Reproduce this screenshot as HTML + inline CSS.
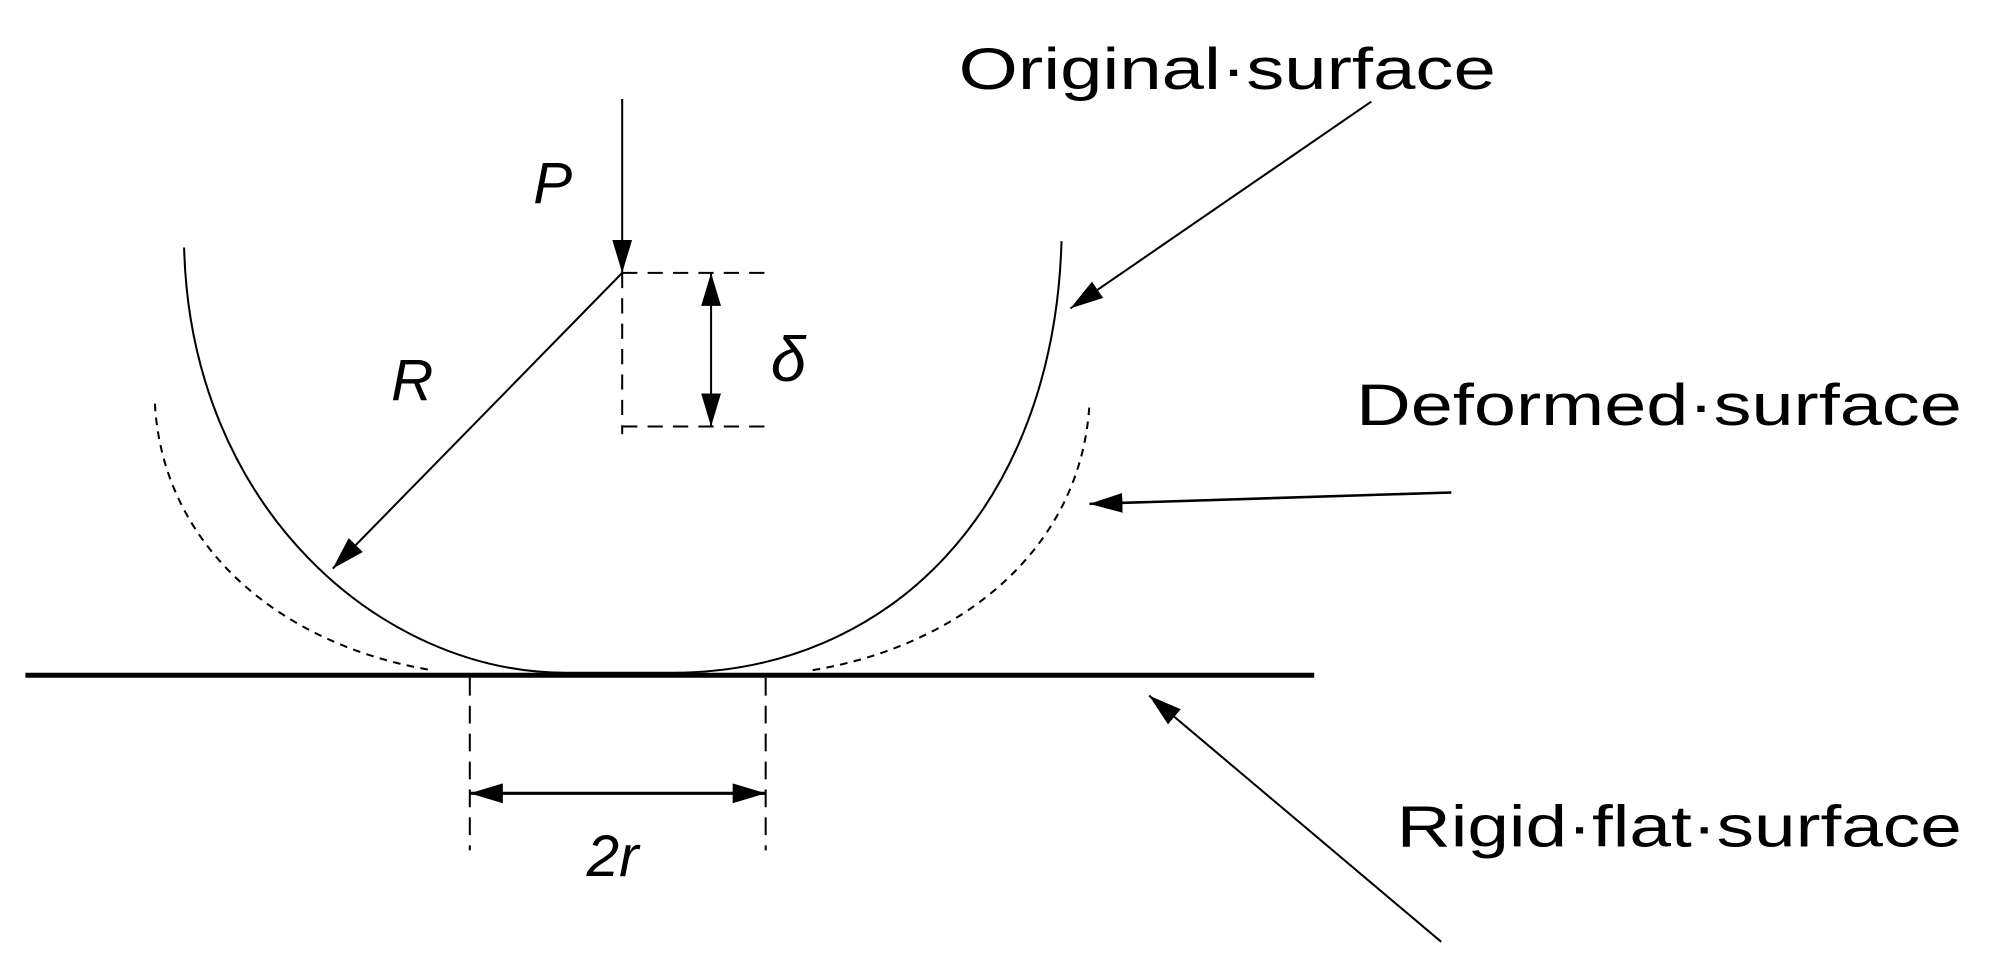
<!DOCTYPE html>
<html><head><meta charset="utf-8"><style>html,body{margin:0;padding:0;background:#fff}svg{display:block}</style></head>
<body>
<svg width="1991" height="971" viewBox="0 0 1568 765" preserveAspectRatio="none" xmlns="http://www.w3.org/2000/svg">
<defs>
<marker id="a" viewBox="0 0 10 10" refX="10" refY="5" markerWidth="14" markerHeight="14" markerUnits="userSpaceOnUse" orient="auto-start-reverse">
<path d="M0,1.5 L10,5 L0,8.5 Z" fill="#000"/></marker>
<marker id="b" viewBox="0 0 10 10" refX="10" refY="5" markerWidth="26" markerHeight="26" markerUnits="userSpaceOnUse" orient="auto-start-reverse">
<path d="M0,2 L10,5 L0,8 Z" fill="#000"/></marker>
</defs>
<g fill="none" stroke="#000" stroke-width="1.6">
<path d="M145,195 C150,400 300,530 445,530 L530,530 C700,530 830,400 836,190"/>
<path d="M122,318 C128,430 220,508 340,528" stroke-dasharray="6,5"/>
<path d="M640,528 C760,508 852,430 858,318" stroke-dasharray="6,5"/>
<line x1="20" y1="532" x2="1035" y2="532" stroke-width="4"/>
<line x1="490" y1="215" x2="610" y2="215" stroke-dasharray="12,8"/>
<line x1="490" y1="336" x2="610" y2="336" stroke-dasharray="12,8"/>
<line x1="490" y1="215" x2="490" y2="342" stroke-dasharray="12,8"/>
<line x1="490" y1="78" x2="490" y2="215" marker-end="url(#b)"/>
<line x1="560" y1="215" x2="560" y2="336" marker-start="url(#b)" marker-end="url(#b)"/>
<line x1="490" y1="215" x2="262" y2="448" marker-end="url(#b)"/>
<line x1="370" y1="534" x2="370" y2="670" stroke-dasharray="14,8"/>
<line x1="603" y1="534" x2="603" y2="670" stroke-dasharray="14,8"/>
<line x1="370" y1="625" x2="603" y2="625" stroke-width="2.5" marker-start="url(#b)" marker-end="url(#b)"/>
<line x1="1080" y1="80" x2="843" y2="243" marker-end="url(#b)"/>
<line x1="1143" y1="388" x2="858" y2="397" stroke-width="2" marker-end="url(#b)"/>
<line x1="1135" y1="742" x2="905" y2="548" marker-end="url(#b)"/>
</g>
<g font-family="Liberation Sans, sans-serif" fill="#000">
<text x="420" y="160" font-size="46" font-style="italic">P</text>
<text x="308" y="315" font-size="46" font-style="italic">R</text>
<text x="607" y="300" font-size="50" font-style="italic">δ</text>
<text x="462" y="690" font-size="46" font-style="italic">2r</text>
<text x="755" y="70" font-size="46" textLength="423" lengthAdjust="spacingAndGlyphs">Original·surface</text>
<text x="1068" y="335" font-size="46" textLength="477" lengthAdjust="spacingAndGlyphs">Deformed·surface</text>
<text x="1100" y="667" font-size="46" textLength="445" lengthAdjust="spacingAndGlyphs">Rigid·flat·surface</text>
</g>
</svg>
</body></html>
